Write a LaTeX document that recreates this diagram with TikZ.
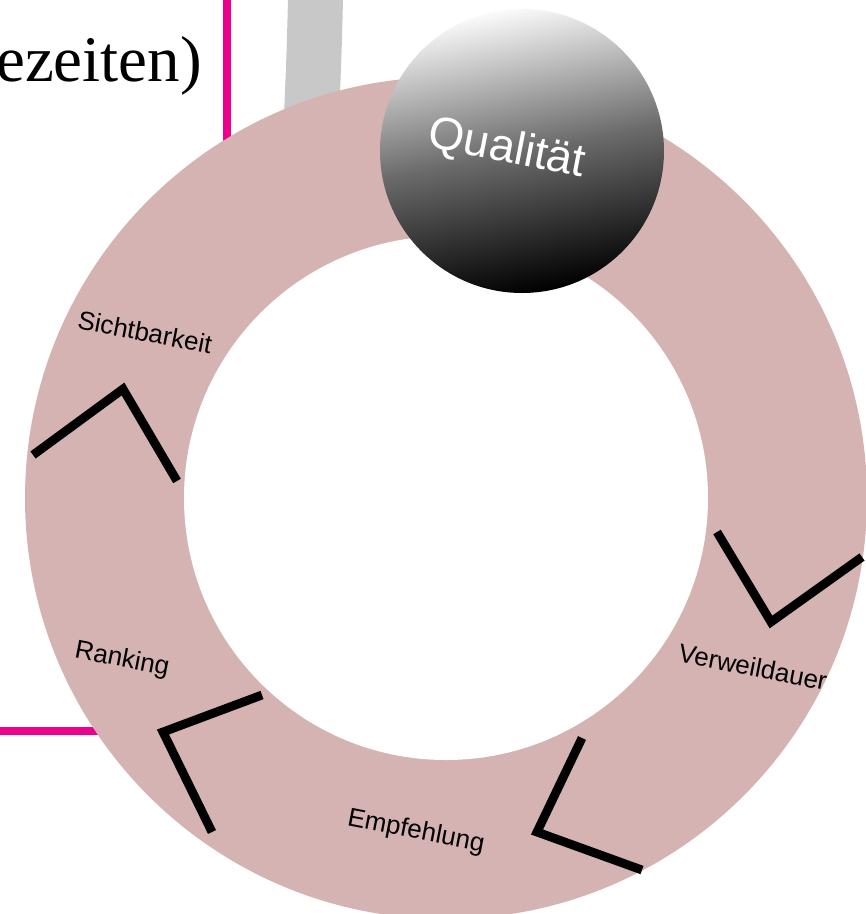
\documentclass[tikz,border=0pt]{standalone}
\usepackage{fontspec}
\setmainfont{Liberation Serif}
\setsansfont{Liberation Sans}
\definecolor{ringcol}{RGB}{212,179,178}
\definecolor{pinkline}{RGB}{236,0,140}
\definecolor{grayband}{RGB}{200,200,200}
\definecolor{topgray}{RGB}{250,250,250}
\tikzset{
  chev/.style={line width=8.8pt, line join=miter, black},
  lab/.style={font=\sffamily\fontsize{26}{26}\selectfont, inner sep=0pt, rotate=-11, text=black},
}
\begin{document}
\begin{tikzpicture}[x=1pt,y=-1pt]
\useasboundingbox (0,0) rectangle (866,914);
\clip (0,0) rectangle (866,914);
% background elements
\draw[grayband, line width=55pt] (316,-20) .. controls (314,60) .. (309,170);
\draw[pinkline, line width=8pt] (227,-20) -- (227,731) -- (-20,731);
\node[font=\rmfamily\fontsize{65}{65}\selectfont, anchor=base east, inner sep=0pt] (title) at (202,81) {(Ladezeiten)};
% ring
\coordinate (c) at (446,498);
\fill[ringcol] (c) circle[radius=421pt];
\fill[white] (c) circle[radius=262pt];
% chevrons
\draw[chev] (33,455) -- (123,389) -- (177,481);
\draw[chev] (262,695) -- (163,732) -- (212,832);
\draw[chev] (582,738) -- (537,832) -- (642,870);
\draw[chev] (717,532) -- (771,622) -- (862,557);
% labels
\node[lab] (sicht) at (145,332) {Sichtbarkeit};
\node[lab] (rank) at (122,660) {Ranking};
\node[lab] (verw) at (753,667) {Verweildauer};
\node[lab] (empf) at (416,832) {Empfehlung};
% quality circle
\node[circle, minimum size=284pt, inner sep=0pt, top color=topgray, bottom color=black, middle color=black!58, shading angle=11] (q) at (522,151) {};
\node[font=\sffamily\fontsize{46}{46}\selectfont, text=white, inner sep=0pt, rotate=-11] (qt) at (507,150) {Qualität};
\end{tikzpicture}
\end{document}
